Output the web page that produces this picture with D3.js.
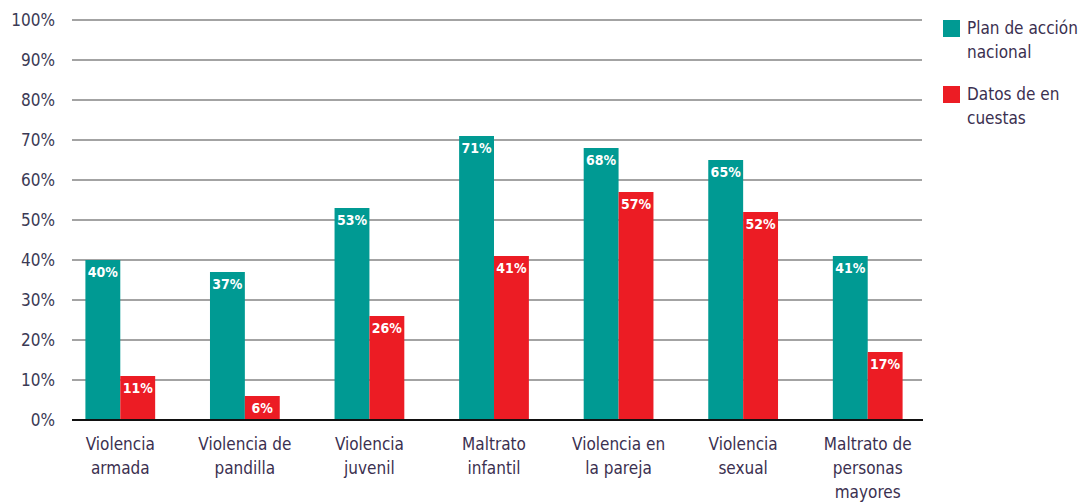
<!DOCTYPE html>
<html>
<head>
<meta charset="utf-8">
<script src="https://d3js.org/d3.v7.min.js"></script>
<style>
body { margin: 0; background: #fff; }
svg text { font-family: "Liberation Sans Narrow", "DejaVu Sans Condensed", "Roboto", sans-serif; }
.tick-label { font-size: 17px; fill: #3b3a55; }
.cat-label { font-size: 17px; fill: #3b3050; }
.val-label { font-size: 14px; fill: #fff; font-weight: bold; }
.legend-label { font-size: 17px; fill: #3b3050; }
</style>
</head>
<body>
<div id="chart"></div>
<script>
var categories = [
    ["Violencia", "armada"],
    ["Violencia de", "pandilla"],
    ["Violencia", "juvenil"],
    ["Maltrato", "infantil"],
    ["Violencia  en", "la pareja"],
    ["Violencia", "sexual"],
    ["Maltrato de", "personas", "mayores"]
];
var planValues = [40, 37, 53, 71, 68, 65, 41];
var encuestaValues = [11, 6, 26, 41, 57, 52, 17];
var yTicks = [0, 10, 20, 30, 40, 50, 60, 70, 80, 90, 100];
var seriesNames = [["Plan de acción", "nacional"], ["Datos de en", "cuestas"]];
var colors = ["#009a93", "#ec1c24"];

var width = 1085, height = 504;

var svg = d3.select("#chart").append("svg")
    .attr("width", width)
    .attr("height", height);

var x = d3.scaleBand()
    .domain(d3.range(categories.length))
    .range([58, 930])
    .paddingInner(0.44)
    .paddingOuter(0.22);

var y = d3.scaleLinear()
    .domain([0, 100])
    .range([420, 20]);

// gridlines
svg.append("g").selectAll("line")
    .data(yTicks.filter(function(d) { return d > 0; }))
    .enter().append("line")
    .attr("x1", 72).attr("x2", 922)
    .attr("y1", function(d) { return y(d); })
    .attr("y2", function(d) { return y(d); })
    .attr("stroke", "#a3a3a3")
    .attr("stroke-width", 2);

// y labels
svg.append("g").selectAll("text")
    .data(yTicks)
    .enter().append("text")
    .attr("class", "tick-label")
    .attr("x", 55)
    .attr("y", function(d) { return y(d) + 6; })
    .attr("text-anchor", "end")
    .text(function(d) { return d + "%"; });

var bw = x.bandwidth() / 2;

var groups = svg.append("g").selectAll("g")
    .data(categories)
    .enter().append("g")
    .attr("transform", function(d, i) { return "translate(" + x(i) + ",0)"; });

[planValues, encuestaValues].forEach(function(vals, s) {
    groups.append("rect")
        .attr("x", s * bw)
        .attr("width", bw)
        .attr("y", function(d, i) { return y(vals[i]); })
        .attr("height", function(d, i) { return y(0) - y(vals[i]); })
        .attr("fill", colors[s]);

    groups.append("text")
        .attr("class", "val-label")
        .attr("x", s * bw + bw / 2)
        .attr("y", function(d, i) { return y(vals[i]) + 17; })
        .attr("text-anchor", "middle")
        .text(function(d, i) { return vals[i] + "%"; });
});

// x axis line
svg.append("line")
    .attr("x1", 72).attr("x2", 923)
    .attr("y1", y(0)).attr("y2", y(0))
    .attr("stroke", "#111")
    .attr("stroke-width", 2);

// category labels
groups.append("text")
    .attr("class", "cat-label")
    .attr("text-anchor", "middle")
    .attr("x", bw)
    .attr("y", 450)
    .selectAll("tspan")
    .data(function(d) { return d; })
    .enter().append("tspan")
    .attr("x", bw)
    .attr("dy", function(d, i) { return i === 0 ? 0 : 24; })
    .text(function(d) { return d; });

// legend
var legend = svg.append("g").selectAll("g")
    .data(seriesNames)
    .enter().append("g")
    .attr("transform", function(d, i) { return "translate(943," + (20 + i * 66) + ")"; });

legend.append("rect")
    .attr("width", 17).attr("height", 17)
    .attr("fill", function(d, i) { return colors[i]; });

legend.append("text")
    .attr("class", "legend-label")
    .attr("x", 24)
    .attr("y", 14)
    .selectAll("tspan")
    .data(function(d) { return d; })
    .enter().append("tspan")
    .attr("x", 24)
    .attr("dy", function(d, i) { return i === 0 ? 0 : 24; })
    .text(function(d) { return d; });
</script>
</body>
</html>
